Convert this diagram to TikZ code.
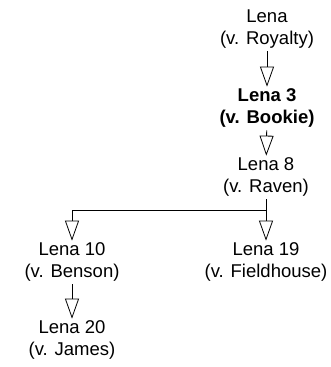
\documentclass[tikz,border=0pt]{standalone}
\usepackage{fontspec}
\setmainfont{Liberation Sans}
\usetikzlibrary{arrows.meta}
\begin{document}
\begin{tikzpicture}[x=1pt,y=1pt,
  lbl/.style={align=center,inner sep=0pt,font=\fontsize{18.5}{21.5}\selectfont},
  arr/.style={line width=0.8pt,-{Triangle[open,length=20pt,width=14pt,line width=0.8pt]},shorten >=2pt,shorten <=3pt}]
\useasboundingbox (0,0) rectangle (330,367);
\node[lbl] (a) at (267,338) {Lena\\(v. Royalty)};
\node[lbl,font=\fontsize{18.5}{21.5}\selectfont\bfseries] (b) at (267,259) {Lena 3\\(v. Bookie)};
\node[lbl] (c) at (266,190) {Lena 8\\(v. Raven)};
\node[lbl] (d) at (72,105) {Lena 10\\(v. Benson)};
\node[lbl] (e) at (266,105) {Lena 19\\(v. Fieldhouse)};
\node[lbl] (f) at (72,27) {Lena 20\\(v. James)};
\coordinate (bar) at (0,157);
\draw[arr] (a) -- (b);
\draw[arr] (b) -- (c);
\draw[arr] (c) -- (e);
\draw[arr] (c.south) -- (c.south |- bar) -| (d.north);
\draw[arr] (d) -- (f);
\end{tikzpicture}
\end{document}
